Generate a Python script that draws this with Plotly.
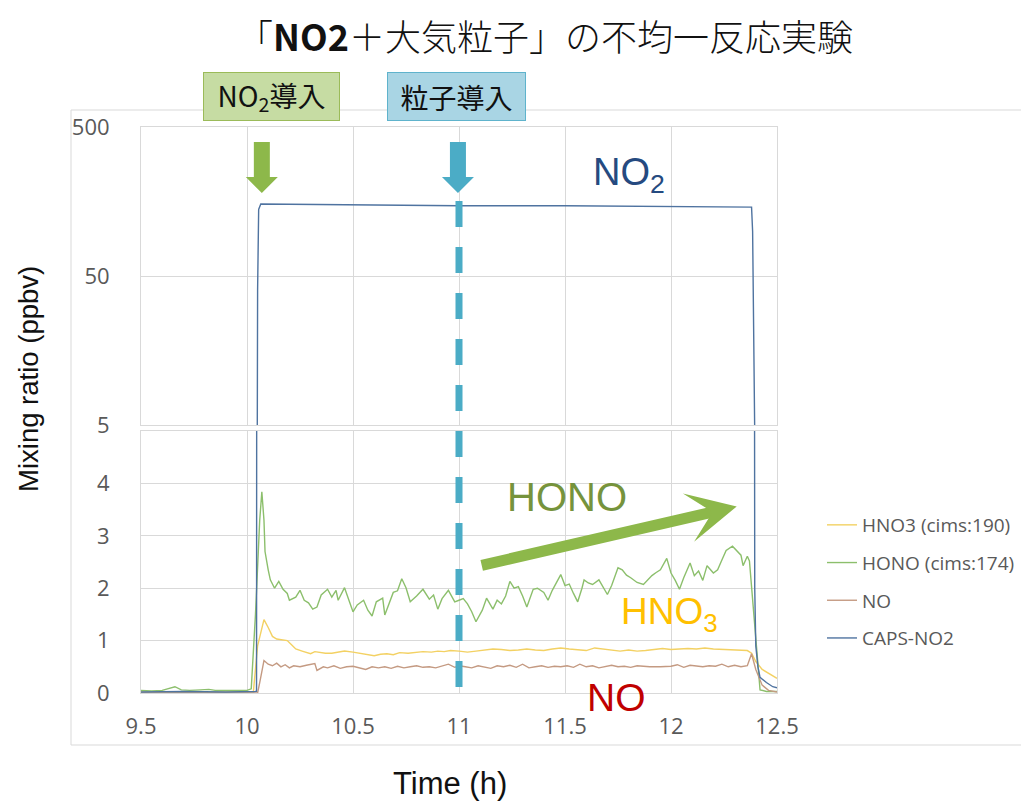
import plotly.graph_objects as go

# ---------------- data ----------------
hono_t = [9.50, 9.55, 9.60, 9.63, 9.66, 9.69, 9.73, 9.78, 9.82, 9.85, 9.90, 9.95, 10.00, 10.02,
          10.04, 10.06, 10.07, 10.08, 10.085, 10.10, 10.11, 10.13, 10.15, 10.17, 10.19, 10.20,
          10.23, 10.25, 10.27, 10.29, 10.31, 10.33, 10.35, 10.38, 10.40, 10.42, 10.43, 10.46,
          10.48, 10.50, 10.52, 10.55, 10.57, 10.59, 10.61, 10.64, 10.65, 10.67, 10.69, 10.71,
          10.73, 10.75, 10.77, 10.80, 10.83, 10.86, 10.88, 10.90, 10.92, 10.95, 10.98, 11.00,
          11.02, 11.04, 11.06, 11.08, 11.11, 11.13, 11.16, 11.18, 11.20, 11.22, 11.24, 11.26,
          11.28, 11.30, 11.32, 11.35, 11.37, 11.40, 11.42, 11.44, 11.46, 11.48, 11.50, 11.52,
          11.54, 11.56, 11.58, 11.59, 11.61, 11.63, 11.66, 11.70, 11.72, 11.75, 11.77, 11.79,
          11.81, 11.84, 11.87, 11.91, 11.93, 11.95, 11.98, 12.00, 12.02, 12.04, 12.06, 12.09,
          12.11, 12.13, 12.15, 12.17, 12.20, 12.22, 12.24, 12.26, 12.29, 12.31, 12.33, 12.34,
          12.36, 12.37, 12.40, 12.42, 12.45, 12.50]
hono_v = [0.05, 0.04, 0.05, 0.08, 0.12, 0.06, 0.05, 0.06, 0.07, 0.05, 0.05, 0.04, 0.05, 0.08,
          1.50, 3.30, 3.84, 3.30, 2.70, 2.35, 2.16, 2.00, 2.13, 1.98, 1.90, 1.77,
          1.83, 1.96, 1.77, 1.72, 1.60, 1.64, 1.87, 1.98, 1.83, 1.96, 1.77, 2.01,
          1.77, 1.55, 1.68, 1.77, 1.58, 1.47, 1.74, 1.81, 1.49, 1.70, 1.92, 1.95,
          2.18, 2.01, 1.74, 1.85, 1.98, 1.79, 1.87, 1.60, 1.80, 1.96, 1.74, 1.77,
          1.80, 1.70, 1.55, 1.36, 1.58, 1.81, 1.60, 1.77, 1.70, 1.85, 2.13, 2.00,
          2.03, 1.85, 1.64, 1.98, 2.00, 1.92, 1.77, 1.96, 2.10, 2.26, 2.05, 2.08,
          1.90, 1.74, 2.00, 2.16, 2.10, 2.07, 2.16, 1.88, 2.05, 2.39, 2.35, 2.25,
          2.20, 2.11, 2.07, 2.24, 2.30, 2.35, 2.57, 2.29, 2.15, 1.98, 2.20, 2.48,
          2.24, 2.33, 2.15, 2.43, 2.29, 2.35, 2.54, 2.72, 2.80, 2.72, 2.63, 2.43,
          2.61, 2.52, 1.04, 0.06, 0.03, 0.03]

hno3_t = [9.50, 9.60, 9.70, 9.80, 9.90, 10.03, 10.05, 10.08, 10.10, 10.12, 10.14, 10.17, 10.19,
          10.21, 10.23, 10.26, 10.30, 10.32, 10.34, 10.37, 10.40, 10.43, 10.46, 10.50, 10.53,
          10.57, 10.60, 10.63, 10.66, 10.69, 10.72, 10.76, 10.80, 10.83, 10.87, 10.90, 10.93,
          10.96, 11.00, 11.04, 11.08, 11.12, 11.16, 11.20, 11.24, 11.28, 11.32, 11.36, 11.40,
          11.44, 11.48, 11.52, 11.56, 11.60, 11.64, 11.68, 11.72, 11.76, 11.80, 11.84, 11.88,
          11.92, 11.96, 12.00, 12.04, 12.08, 12.12, 12.16, 12.20, 12.24, 12.28, 12.32, 12.36,
          12.38, 12.40, 12.43, 12.46, 12.50]
hno3_v = [0.02, 0.01, 0.02, 0.01, 0.02, 0.02, 0.90, 1.40, 1.25, 1.08, 1.03, 1.01, 1.00,
          0.92, 0.84, 0.80, 0.75, 0.79, 0.78, 0.76, 0.76, 0.78, 0.80, 0.78, 0.76,
          0.72, 0.71, 0.74, 0.75, 0.73, 0.77, 0.76, 0.78, 0.79, 0.78, 0.80, 0.79,
          0.81, 0.80, 0.78, 0.80, 0.82, 0.84, 0.83, 0.81, 0.82, 0.84, 0.82, 0.81,
          0.84, 0.86, 0.84, 0.83, 0.81, 0.86, 0.84, 0.82, 0.80, 0.82, 0.80, 0.81,
          0.83, 0.85, 0.83, 0.84, 0.85, 0.84, 0.86, 0.84, 0.83, 0.83, 0.82, 0.81,
          0.76, 0.60, 0.45, 0.38, 0.28]

no_t = [9.50, 10.05, 10.06, 10.08, 10.10, 10.12, 10.14, 10.16, 10.18, 10.20, 10.22, 10.25,
        10.28, 10.30, 10.32, 10.33, 10.36, 10.38, 10.41, 10.44, 10.47, 10.50, 10.53, 10.56,
        10.59, 10.62, 10.65, 10.68, 10.71, 10.74, 10.77, 10.80, 10.83, 10.86, 10.89, 10.92,
        10.95, 10.98, 11.00, 11.03, 11.06, 11.09, 11.12, 11.15, 11.18, 11.21, 11.24, 11.27,
        11.30, 11.33, 11.36, 11.39, 11.42, 11.45, 11.48, 11.51, 11.54, 11.57, 11.60, 11.63,
        11.66, 11.69, 11.72, 11.75, 11.78, 11.81, 11.84, 11.87, 11.90, 11.95, 12.00, 12.03,
        12.06, 12.09, 12.12, 12.15, 12.18, 12.21, 12.24, 12.27, 12.30, 12.33, 12.36, 12.38,
        12.40, 12.43, 12.46, 12.50]
no_v = [0.00, 0.00, 0.20, 0.62, 0.55, 0.52, 0.57, 0.50, 0.54, 0.48, 0.52, 0.50,
        0.53, 0.55, 0.56, 0.43, 0.50, 0.48, 0.52, 0.47, 0.50, 0.51, 0.48, 0.45,
        0.50, 0.48, 0.50, 0.47, 0.51, 0.48, 0.50, 0.52, 0.49, 0.50, 0.48, 0.51,
        0.55, 0.49, 0.52, 0.50, 0.48, 0.52, 0.50, 0.47, 0.52, 0.50, 0.53, 0.49,
        0.55, 0.48, 0.50, 0.52, 0.49, 0.51, 0.50, 0.52, 0.49, 0.55, 0.50, 0.52,
        0.48, 0.51, 0.53, 0.50, 0.51, 0.49, 0.52, 0.51, 0.50, 0.50, 0.51, 0.54,
        0.49, 0.53, 0.52, 0.50, 0.52, 0.51, 0.55, 0.50, 0.53, 0.50, 0.52, 0.75,
        0.45, 0.15, 0.05, 0.02]

no2_t = [9.50, 9.70, 9.90, 10.03, 10.045, 10.05, 10.055, 10.065, 10.30, 10.60, 10.80, 10.82,
         11.00, 11.50, 11.90, 12.00, 12.20, 12.38, 12.385, 12.39, 12.395, 12.40, 12.41,
         12.42, 12.45, 12.48, 12.50]
no2_v = [0.02, 0.03, 0.02, 0.03, 0.03, 40.0, 140.0, 152.0, 151.0, 150.0, 149.0, 148.0,
         148.0, 148.0, 147.0, 146.0, 146.0, 145.0, 100.0, 20.0, 2.0, 0.9, 0.5,
         0.3, 0.2, 0.12, 0.10]

series_names = ["HNO3 (cims:190)", "HONO (cims:174)", "NO", "CAPS-NO2"]
series_colors = ["#f3d163", "#8cbf6c", "#c49a82", "#4f73a0"]

x_ticks = [9.5, 10, 10.5, 11, 11.5, 12, 12.5]
x_ticktext = ["9.5", "10", "10.5", "11", "11.5", "12", "12.5"]
y_log_ticks = [5, 50, 500]
y_lin_ticks = [0, 1, 2, 3, 4]

# ---------------- layout helpers ----------------
# The page body adds an 8px margin, so the figure is placed 8px in from the window corner.
OFF = 8
W, H = 1029 - OFF, 802 - OFF
PX_L, PX_R = 141, 777
HOURS_PER_PX = (12.5 - 9.5) / (PX_R - PX_L)


def fx(px):
    return (px - OFF) / W


def fy(py):
    return 1 - (py - OFF) / H


grid = "#d9d9d9"
tickfont = dict(family="Open Sans, Lato, sans-serif", size=22, color="#595959")

fig = go.Figure()

lower = [(hno3_t, hno3_v), (hono_t, hono_v), (no_t, no_v), (no2_t, no2_v)]
for i, (tt, vv) in enumerate(lower):
    fig.add_trace(go.Scatter(
        x=tt, y=vv, mode="lines", name=series_names[i],
        line=dict(color=series_colors[i], width=1.4),
        xaxis="x2", yaxis="y2", legendgroup=series_names[i]))

fig.add_trace(go.Scatter(
    x=no2_t, y=no2_v, mode="lines", name=series_names[3], showlegend=False,
    line=dict(color=series_colors[3], width=1.4), xaxis="x", yaxis="y"))

axis_common = dict(showgrid=True, gridcolor=grid, gridwidth=1, showline=True,
                   linecolor=grid, linewidth=1, mirror=True, zeroline=False,
                   ticks="", tickfont=tickfont, automargin=False)

fig.update_layout(
    width=W, height=H, margin=dict(l=0, r=0, t=0, b=0, autoexpand=False),
    paper_bgcolor="white", plot_bgcolor="white",
    xaxis=dict(domain=[fx(PX_L), fx(PX_R)], range=[9.5, 12.5], tickvals=x_ticks,
               showticklabels=False, anchor="y", matches="x2", **axis_common),
    yaxis=dict(domain=[fy(425), fy(127)], type="log", range=[0.69897, 2.69897],
               tickvals=y_log_ticks, ticktext=[str(v) for v in y_log_ticks],
               anchor="x", ticklabelstandoff=26, **axis_common),
    xaxis2=dict(domain=[fx(PX_L), fx(PX_R)], range=[9.5, 12.5], tickvals=x_ticks,
                ticktext=x_ticktext, anchor="y2", ticklabelstandoff=14, **axis_common),
    yaxis2=dict(domain=[fy(693), fy(431)], range=[0, 5], tickvals=y_lin_ticks,
                anchor="x2", ticklabelstandoff=26, **axis_common),
    legend=dict(x=fx(822), y=fy(506), xanchor="left", yanchor="top",
                font=dict(family="Open Sans, sans-serif", size=19, color="#595959"),
                tracegroupgap=10, itemwidth=30, bgcolor="rgba(0,0,0,0)"),
    showlegend=True,
)

shapes = []
# outer chart border
shapes.append(dict(type="rect", xref="paper", yref="paper", x0=fx(71), x1=fx(1040),
                   y0=fy(745), y1=fy(110), line=dict(color=grid, width=1), layer="below"))
# dashed particle-introduction line at t = 11
shapes.append(dict(type="line", xref="x", yref="paper", x0=11, x1=11, y0=fy(201), y1=fy(693),
                   line=dict(color="#4bacc6", width=7, dash="26px,20px")))


def down_arrow(cx, color):
    d = HOURS_PER_PX
    pts = [(cx - 8 * d, 142), (cx + 8 * d, 142), (cx + 8 * d, 177), (cx + 16 * d, 177),
           (cx, 193), (cx - 16 * d, 177), (cx - 8 * d, 177)]
    path = "M " + " L ".join(f"{x},{fy(y)}" for x, y in pts) + " Z"
    return dict(type="path", xref="x", yref="paper", path=path,
                fillcolor=color, line=dict(width=0))


shapes.append(down_arrow(10.07, "#8db84a"))
shapes.append(down_arrow(10.995, "#4bacc6"))

C = dict(xanchor="center", yanchor="middle", showarrow=False)
annotations = []
# Title
annotations.append(dict(
    xref="paper", yref="paper", x=fx(545), y=fy(35), **C, borderpad=0,
    text="「<b>NO2</b>＋大気粒子」の不均一反応実験",
    font=dict(family="Noto Sans CJK JP", size=36, color="#111111", weight=300)))
# Axis titles
annotations.append(dict(
    xref="paper", yref="paper", x=fx(28), y=fy(379), textangle=-90, **C,
    text="Mixing ratio (ppbv)",
    font=dict(family="Liberation Sans, Arial, sans-serif", size=27.5, color="#111111")))
annotations.append(dict(
    xref="paper", yref="paper", x=fx(450), y=fy(783), **C,
    text="Time (h)",
    font=dict(family="Liberation Sans, Arial, sans-serif", size=31, color="#111111")))
# Event boxes
annotations.append(dict(
    xref="paper", yref="paper", x=fx(271), y=fy(97), **C,
    text="NO<sub>2</sub>導入", width=131, height=43, borderpad=2,
    bgcolor="#c6dca3", bordercolor="#9bbb59", borderwidth=1,
    font=dict(family="Noto Sans CJK JP", size=28, color="#111111")))
annotations.append(dict(
    xref="paper", yref="paper", x=fx(456), y=fy(97), **C,
    text="粒子導入", width=133, height=43, borderpad=2,
    bgcolor="#a9d5e4", bordercolor="#5fb3cc", borderwidth=1,
    font=dict(family="Noto Sans CJK JP", size=28, color="#111111")))
# HONO trend arrow
annotations.append(dict(
    xref="x2", yref="y2", axref="x2", ayref="y2", x=12.31, y=3.56, ax=11.10, ay=2.43,
    showarrow=True, arrowhead=3, arrowsize=0.75, arrowwidth=11, arrowcolor="#8db84a",
    text=""))
# Species labels
lab_font = "Liberation Sans, Arial, sans-serif"
annotations.append(dict(xref="x", yref="y", x=11.80, y=2.38, **C,
                        text="NO<sub>2</sub>", font=dict(family=lab_font, size=38, color="#254a80")))
annotations.append(dict(xref="x2", yref="y2", x=11.51, y=3.75, **C,
                        text="HONO", font=dict(family=lab_font, size=40, color="#76933c")))
annotations.append(dict(xref="x2", yref="y2", x=11.995, y=1.50, **C,
                        text="HNO<sub>3</sub>", font=dict(family=lab_font, size=37, color="#ffc000")))
annotations.append(dict(xref="x2", yref="paper", x=11.745, y=fy(697), **C,
                        text="NO", font=dict(family=lab_font, size=39, color="#c00000")))

fig.update_layout(shapes=shapes, annotations=annotations)

fig.write_html("out.html")
